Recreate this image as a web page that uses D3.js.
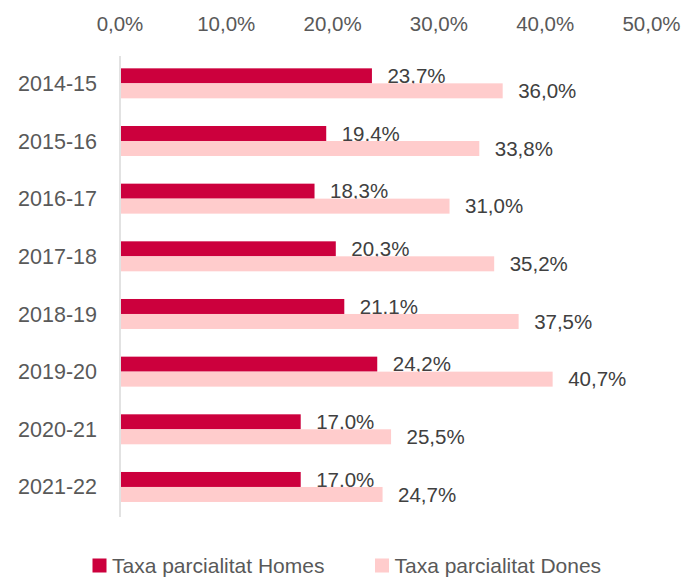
<!DOCTYPE html>
<html>
<head>
<meta charset="utf-8">
<script src="https://cdn.jsdelivr.net/npm/d3@7"></script>
<style>
  body { margin: 0; background: #fff; }
  svg { font-family: "Liberation Sans", Arial, sans-serif; }
</style>
</head>
<body>
<div id="chart"></div>
<script>
const years = ['2014-15', '2015-16', '2016-17', '2017-18', '2018-19', '2019-20', '2020-21', '2021-22'];
const homes = [23.7, 19.4, 18.3, 20.3, 21.1, 24.2, 17.0, 17.0];
const dones = [36.0, 33.8, 31.0, 35.2, 37.5, 40.7, 25.5, 24.7];
const seriesNames = ['Taxa parcialitat Homes', 'Taxa parcialitat Dones'];
const ticks = [0, 10, 20, 30, 40, 50];

const width = 683, height = 578;
const colors = ['#cc003d', '#ffcccc'];
const fmt = (v) => v.toFixed(1).replace('.', ',') + '%';

const svg = d3.select('#chart').append('svg')
  .attr('width', width).attr('height', height);

const x = d3.scaleLinear().domain([0, 50]).range([120, 651.5]);
const y = d3.scaleBand().domain(years).range([54.5, 515.8]).paddingInner(0.48).paddingOuter(0.24);
const sub = d3.scaleBand().domain([0, 1]).range([0, y.bandwidth()]);

// top axis labels
svg.append('g').selectAll('text')
  .data(ticks).join('text')
  .attr('x', (d) => x(d)).attr('y', 30.5)
  .attr('text-anchor', 'middle')
  .attr('font-size', 20.5).attr('fill', '#595959')
  .text((d) => fmt(d));

// vertical axis line
svg.append('line')
  .attr('x1', x(0)).attr('x2', x(0))
  .attr('y1', 56).attr('y2', 517)
  .attr('stroke', '#d9d9d9').attr('stroke-width', 1.5);

// category labels
svg.append('g').selectAll('text')
  .data(years).join('text')
  .attr('x', 97).attr('y', (d) => y(d) + y.bandwidth() / 2)
  .attr('dy', '0.35em')
  .attr('text-anchor', 'end')
  .attr('font-size', 21.5).attr('fill', '#595959')
  .text((d) => d);

const series = [homes, dones];
series.forEach((vals, s) => {
  const g = svg.append('g');
  g.selectAll('rect').data(vals).join('rect')
    .attr('x', x(0) + 1)
    .attr('y', (d, i) => y(years[i]) + sub(s))
    .attr('width', (d) => x(d) - x(0) - 1)
    .attr('height', sub.bandwidth())
    .attr('fill', colors[s]);
  g.selectAll('text').data(vals).join('text')
    .attr('x', (d) => x(d) + 15.5)
    .attr('y', (d, i) => y(years[i]) + sub(s) + sub.bandwidth() / 2)
    .attr('dy', '0.35em')
    .attr('font-size', 20.5).attr('fill', '#404040')
    .text((d) => fmt(d));
});

// legend
const legendX = [92.5, 375];
const legend = svg.append('g').selectAll('g')
  .data(seriesNames).join('g')
  .attr('transform', (d, i) => `translate(${legendX[i]},565.5)`);
legend.append('rect')
  .attr('x', 0).attr('y', -7).attr('width', 14).attr('height', 14)
  .attr('fill', (d, i) => colors[i]);
legend.append('text')
  .attr('x', 19.5).attr('dy', '0.35em')
  .attr('font-size', 21).attr('fill', '#595959')
  .text((d) => d);
</script>
</body>
</html>
